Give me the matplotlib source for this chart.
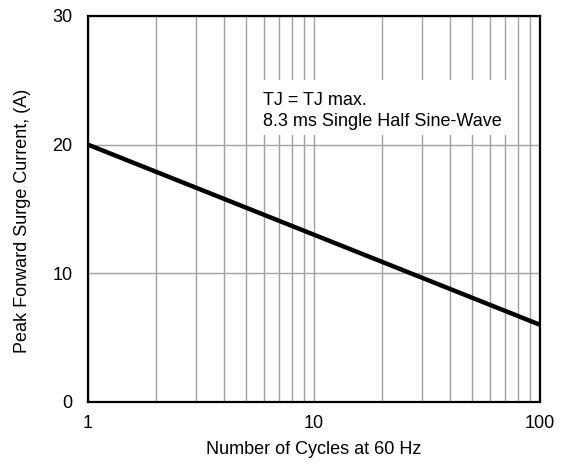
import matplotlib
matplotlib.use("Agg")
import matplotlib.pyplot as plt
from matplotlib.patches import Rectangle
from matplotlib.ticker import FixedLocator, NullFormatter

plt.rcParams['font.family'] = ['Liberation Sans', 'DejaVu Sans']

# Surge current derating curve
cycles = [1, 100]
surge_current = [20, 6]

x_ticks = [1, 10, 100]
x_tick_labels = ["1", "10", "100"]
y_ticks = [0, 10, 20, 30]
y_tick_labels = ["0", "10", "20", "30"]

note_lines = ["TJ = TJ max.", "8.3 ms Single Half Sine-Wave"]

fig = plt.figure(figsize=(5.66, 4.66), dpi=100)
ax = fig.add_axes([88 / 566, 64 / 466, 452 / 566, 386 / 466])

ax.set_xscale('log')
ax.set_xlim(1, 100)
ax.set_ylim(0, 30)

minor = [m * d for d in (1, 10) for m in range(2, 10)]
ax.xaxis.set_major_locator(FixedLocator(x_ticks))
ax.xaxis.set_minor_locator(FixedLocator(minor))
ax.xaxis.set_minor_formatter(NullFormatter())
ax.set_xticks(x_ticks, x_tick_labels)
ax.set_yticks(y_ticks, y_tick_labels)

ax.grid(True, which='both', axis='x', color='#a0a0a0', linewidth=1.0)
ax.grid(True, which='major', axis='y', color='#a0a0a0', linewidth=1.0)
ax.set_axisbelow(True)

ax.tick_params(which='both', length=0, labelsize=13)
ax.tick_params(axis='x', pad=9)
ax.tick_params(axis='y', pad=11)
for s in ax.spines.values():
    s.set_linewidth(1.6)
    s.set_color('black')

ax.plot(cycles, surge_current, color='black', linewidth=3.2, solid_capstyle='butt', zorder=5)

# white panel behind the test-condition note
ax.add_patch(Rectangle((0.363, 0.692), 0.566, 0.142, transform=ax.transAxes,
                       facecolor='white', edgecolor='none', zorder=3))
ax.text(0.388, 0.769, note_lines[0], transform=ax.transAxes, fontsize=13,
        va='baseline', ha='left', zorder=4)
ax.text(0.388, 0.715, note_lines[1], transform=ax.transAxes, fontsize=13,
        va='baseline', ha='left', zorder=4)

ax.set_xlabel("Number of Cycles at 60 Hz", fontsize=13, va='center')
ax.set_ylabel("Peak Forward Surge Current, (A)", fontsize=13, va='center')
ax.xaxis.set_label_coords(0.5, -0.124)
ax.yaxis.set_label_coords(-0.146, 0.47)

fig.savefig("out.png", dpi=100)
